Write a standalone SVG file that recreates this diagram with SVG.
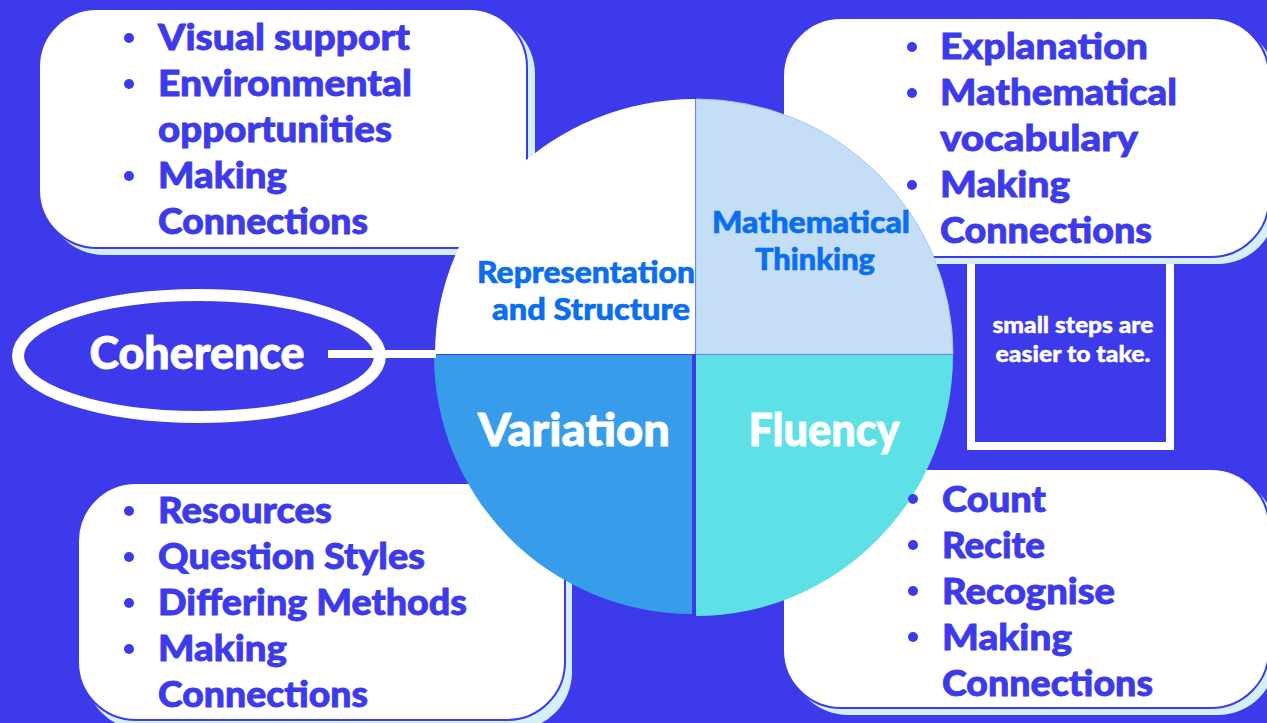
<svg xmlns="http://www.w3.org/2000/svg" width="1267" height="723" viewBox="0 0 1267 723">
  <style>
    .bg { fill: #3D3AEB; }
    .card-shadow { fill: #D2EFFA; }
    .card { fill: #FFFFFF; stroke: #3D3AEB; stroke-width: 2; }
    text { font-family: Lato, "Liberation Sans", sans-serif; font-weight: 900; }
    .item { font-size: 36px; fill: #3D3AEB; stroke: #3D3AEB; stroke-width: 0.8; }
    .dot { fill: #3D3AEB; }
    .seg-label { font-size: 30px; fill: #0B6DF0; stroke: #0B6DF0; stroke-width: 0.6; text-anchor: middle; }
    .seg-big { font-size: 45px; fill: #FFFFFF; stroke: #FFFFFF; stroke-width: 0.8; text-anchor: middle; }
    .note { font-size: 22px; fill: #FFFFFF; stroke: #FFFFFF; stroke-width: 0.4; text-anchor: middle; }
    .link { stroke: #FFFFFF; stroke-width: 8; fill: none; }
  </style>

  <rect class="bg" x="0" y="0" width="1267" height="723"/>

  <!-- note square under the top-right card -->
  <g id="note-steps">
    <rect x="971" y="230" width="199" height="216" fill="#3D3AEB" stroke="#FFFFFF" stroke-width="8"/>
  </g>

  <!-- card backgrounds -->
  <g id="card-representation-bg">
    <rect class="card-shadow" x="46" y="16" width="489" height="239" rx="58"/>
    <rect class="card" x="39" y="9" width="488" height="239" rx="58"/>
  </g>
  <g id="card-thinking-bg">
    <rect class="card-shadow" x="790" y="25" width="486" height="239" rx="58"/>
    <rect class="card" x="783" y="18" width="486" height="239" rx="58"/>
  </g>
  <g id="card-variation-bg">
    <rect class="card-shadow" x="85" y="490" width="487" height="240" rx="58"/>
    <rect class="card" x="78" y="483" width="487" height="237" rx="58"/>
  </g>
  <g id="card-fluency-bg">
    <rect class="card-shadow" x="790" y="476" width="486" height="239" rx="58"/>
    <rect class="card" x="783" y="469" width="486" height="239" rx="58"/>
  </g>

  <!-- four-part wheel -->
  <g id="wheel">
    <g id="seg-representation">
      <path d="M695 354 L435 354 A260 255 0 0 1 695 99 Z" fill="#FFFFFF"/>
      <text class="seg-label" x="586" y="283" textLength="218" lengthAdjust="spacingAndGlyphs">Representation</text>
      <text class="seg-label" x="591" y="320" textLength="198" lengthAdjust="spacingAndGlyphs">and Structure</text>
    </g>
    <g id="seg-thinking">
      <path d="M696 354 L696 99 A257 255 0 0 1 953 354 Z" fill="#C4DFF5" stroke="#A9C6F2" stroke-width="1"/>
      <text class="seg-label" x="811" y="233" textLength="198" lengthAdjust="spacingAndGlyphs">Mathematical</text>
      <text class="seg-label" x="815" y="270" textLength="120" lengthAdjust="spacingAndGlyphs">Thinking</text>
    </g>
    <g id="seg-variation">
      <path d="M692 355 L434 355 A258 259 0 0 0 692 614 Z" fill="#379DEA"/>
      <text class="seg-big" x="574" y="446" textLength="192" lengthAdjust="spacingAndGlyphs">Variation</text>
    </g>
    <g id="seg-fluency">
      <path d="M696 355 L953 355 A257 261 0 0 1 696 616 Z" fill="#5DE1E6"/>
      <text class="seg-big" x="824" y="446" textLength="151" lengthAdjust="spacingAndGlyphs">Fluency</text>
    </g>
  </g>

  <!-- connectors -->
  <g id="connectors">
    <line class="link" x1="328" y1="354" x2="436" y2="354"/>
  </g>

  <!-- Coherence -->
  <g id="coherence">
    <ellipse cx="199" cy="356" rx="181" ry="61" fill="none" stroke="#FFFFFF" stroke-width="12"/>
    <text class="seg-big" x="197" y="369" textLength="215" lengthAdjust="spacingAndGlyphs">Coherence</text>
  </g>

  <!-- card texts -->
  <g id="card-representation">
    <circle class="dot" cx="129" cy="38" r="5"/>
    <circle class="dot" cx="129" cy="84" r="5"/>
    <circle class="dot" cx="129" cy="176" r="5"/>
    <text class="item" x="158" y="50" textLength="252" lengthAdjust="spacingAndGlyphs">Visual support</text>
    <text class="item" x="158" y="96" textLength="254" lengthAdjust="spacingAndGlyphs">Environmental</text>
    <text class="item" x="158" y="142" textLength="234" lengthAdjust="spacingAndGlyphs">opportunities</text>
    <text class="item" x="158" y="188" textLength="129" lengthAdjust="spacingAndGlyphs">Making</text>
    <text class="item" x="158" y="234" textLength="210" lengthAdjust="spacingAndGlyphs">Connections</text>
  </g>

  <g id="card-thinking">
    <circle class="dot" cx="912" cy="47" r="5"/>
    <circle class="dot" cx="912" cy="93" r="5"/>
    <circle class="dot" cx="912" cy="185" r="5"/>
    <text class="item" x="940" y="59" textLength="208" lengthAdjust="spacingAndGlyphs">Explanation</text>
    <text class="item" x="940" y="105" textLength="237" lengthAdjust="spacingAndGlyphs">Mathematical</text>
    <text class="item" x="940" y="151" textLength="198" lengthAdjust="spacingAndGlyphs">vocabulary</text>
    <text class="item" x="940" y="197" textLength="130" lengthAdjust="spacingAndGlyphs">Making</text>
    <text class="item" x="940" y="243" textLength="212" lengthAdjust="spacingAndGlyphs">Connections</text>
  </g>

  <g id="card-variation">
    <circle class="dot" cx="129" cy="511" r="5"/>
    <circle class="dot" cx="129" cy="557" r="5"/>
    <circle class="dot" cx="129" cy="603" r="5"/>
    <circle class="dot" cx="129" cy="649" r="5"/>
    <text class="item" x="158" y="523" textLength="174" lengthAdjust="spacingAndGlyphs">Resources</text>
    <text class="item" x="158" y="569" textLength="267" lengthAdjust="spacingAndGlyphs">Question Styles</text>
    <text class="item" x="158" y="615" textLength="309" lengthAdjust="spacingAndGlyphs">Differing Methods</text>
    <text class="item" x="158" y="661" textLength="129" lengthAdjust="spacingAndGlyphs">Making</text>
    <text class="item" x="158" y="707" textLength="210" lengthAdjust="spacingAndGlyphs">Connections</text>
  </g>

  <g id="card-fluency">
    <circle class="dot" cx="913" cy="499" r="5"/>
    <circle class="dot" cx="913" cy="545" r="5"/>
    <circle class="dot" cx="913" cy="591" r="5"/>
    <circle class="dot" cx="913" cy="637" r="5"/>
    <text class="item" x="942" y="512" textLength="104" lengthAdjust="spacingAndGlyphs">Count</text>
    <text class="item" x="942" y="558" textLength="103" lengthAdjust="spacingAndGlyphs">Recite</text>
    <text class="item" x="942" y="604" textLength="173" lengthAdjust="spacingAndGlyphs">Recognise</text>
    <text class="item" x="942" y="650" textLength="130" lengthAdjust="spacingAndGlyphs">Making</text>
    <text class="item" x="942" y="696" textLength="211" lengthAdjust="spacingAndGlyphs">Connections</text>
  </g>

  <g id="note-steps-text">
    <text class="note" x="1073" y="333" textLength="161" lengthAdjust="spacingAndGlyphs">small steps are</text>
    <text class="note" x="1073" y="362" textLength="155" lengthAdjust="spacingAndGlyphs">easier to take.</text>
  </g>
</svg>
